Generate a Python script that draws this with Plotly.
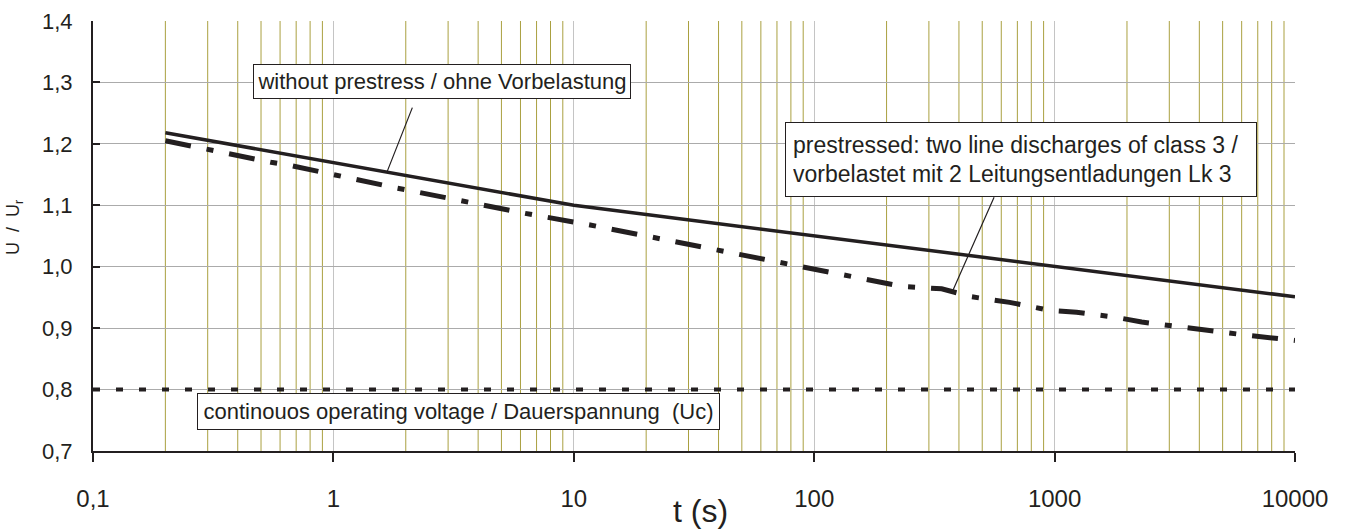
import numpy as np
import plotly.graph_objects as go

# ---- data ----
t_solid = [0.2, 10, 10000]
u_solid = [1.218, 1.100, 0.951]

t_pre = [0.2, 0.46, 0.55, 0.66, 1.84, 6.25, 11.7, 39.7, 124, 231, 339, 452, 650, 955, 1234, 1776, 2303, 3311, 4288, 6166, 10000]
u_pre = [1.205, 1.175, 1.170, 1.165, 1.128, 1.087, 1.068, 1.027, 0.990, 0.968, 0.964, 0.951, 0.942, 0.929, 0.926, 0.918, 0.910, 0.902, 0.897, 0.889, 0.880]

t_uc = [0.1, 10000]
u_uc = [0.8, 0.8]

x_tickvals = [0.1, 1, 10, 100, 1000, 10000]
x_ticktext = ["0,1", "1", "10", "100", "1000", "10000"]
y_tickvals = [0.7, 0.8, 0.9, 1.0, 1.1, 1.2, 1.3, 1.4]
y_ticktext = ["0,7", "0,8", "0,9", "1,0", "1,1", "1,2", "1,3", "1,4"]
minor_vals = [m * 10.0 ** d for d in range(-1, 4) for m in range(2, 10)]

label_solid = "without prestress / ohne Vorbelastung"
label_pre = "prestressed: two line discharges of class 3 /<br>vorbelastet mit 2 Leitungsentladungen Lk 3"
label_uc = "continouos operating voltage / Dauerspannung  (Uc)"
x_title = "t (s)"
y_title = "U\u00a0\u00a0/\u00a0\u00a0U<sub>r</sub>"

FONT = "Liberation Sans, Arial, sans-serif"
INK = "#231f20"
OLIVE = "#aaa040"

fig = go.Figure()
fig.add_trace(go.Scatter(x=t_uc, y=u_uc, mode="lines",
                         line=dict(color=INK, width=4, dash="7px,16px"), showlegend=False))
fig.add_trace(go.Scatter(x=t_pre, y=u_pre, mode="lines",
                         line=dict(color=INK, width=5, dash="26px,16px,7px,16px"), showlegend=False))
fig.add_trace(go.Scatter(x=t_solid, y=u_solid, mode="lines",
                         line=dict(color=INK, width=3.5), showlegend=False))

# minor vertical grid (olive) drawn under the traces
for v in minor_vals:
    fig.add_shape(type="line", xref="x", yref="paper", x0=v, x1=v, y0=0, y1=1,
                  line=dict(color=OLIVE, width=1), layer="below")

fig.update_layout(
    width=1349, height=531,
    margin=dict(l=93, r=54, t=21, b=80, autoexpand=False),
    paper_bgcolor="white", plot_bgcolor="white",
    font=dict(family=FONT, color=INK),
    xaxis=dict(type="log", range=[-1, 4], tickvals=x_tickvals, ticktext=x_ticktext,
               showgrid=True, gridcolor="#c4c4c4", gridwidth=1,
               showline=True, linecolor=INK, linewidth=2,
               ticks="outside", ticklen=9, tickwidth=2, tickcolor=INK,
               ticklabelstandoff=16, automargin=False,
               tickfont=dict(size=24, family=FONT, color=INK),
               zeroline=False),
    yaxis=dict(range=[0.7, 1.4], tickvals=y_tickvals, ticktext=y_ticktext,
               showgrid=True, gridcolor="#ababab", gridwidth=1,
               showline=True, linecolor=INK, linewidth=2,
               ticks="inside", ticklen=7, tickwidth=2, tickcolor=INK,
               ticklabelstandoff=14, automargin=False,
               tickfont=dict(size=22, family=FONT, color=INK),
               zeroline=False),
)

PW, PH, L, T = 1202, 430, 93, 21
def px(x):
    return (x - L) / PW
def py(y):
    return (T + PH - y) / PH

box = dict(xref="paper", yref="paper", xanchor="center", yanchor="middle", showarrow=False,
           bgcolor="white", bordercolor=INK, borderwidth=1)

# text boxes
fig.add_annotation(x=px(442), y=py(81), text=label_solid, borderpad=3,
                   width=370, height=27, font=dict(size=22, family=FONT, color=INK), **box)
fig.add_annotation(x=px(1021), y=py(159), text=label_pre, align="left", borderpad=7,
                   width=456, height=59, font=dict(size=23, family=FONT, color=INK), **box)
fig.add_annotation(x=px(458), y=py(411), text=label_uc, borderpad=3,
                   width=515, height=29, font=dict(size=22, family=FONT, color=INK), **box)

# pointer lines
fig.add_annotation(x=np.log10(1.67), y=1.154, xref="x", yref="y", text="", showarrow=True,
                   arrowhead=0, arrowwidth=1.2, arrowcolor=INK, ax=26, ay=-66, standoff=0)
fig.add_annotation(x=np.log10(377), y=0.961, xref="x", yref="y", text="", showarrow=True,
                   arrowhead=0, arrowwidth=1.2, arrowcolor=INK, ax=42, ay=-95, standoff=0)

# axis titles
fig.add_annotation(xref="paper", yref="paper", xanchor="center", yanchor="middle",
                   x=px(700), y=py(511), text=x_title, showarrow=False,
                   font=dict(size=32, family=FONT, color=INK))
fig.add_annotation(xref="paper", yref="paper", xanchor="center", yanchor="middle",
                   x=px(15), y=py(228), text=y_title,
                   showarrow=False, textangle=-90, font=dict(size=18, family=FONT, color=INK))

fig.write_html("out.html", config={"displayModeBar": False},
               post_script="document.body.style.margin='0';")
